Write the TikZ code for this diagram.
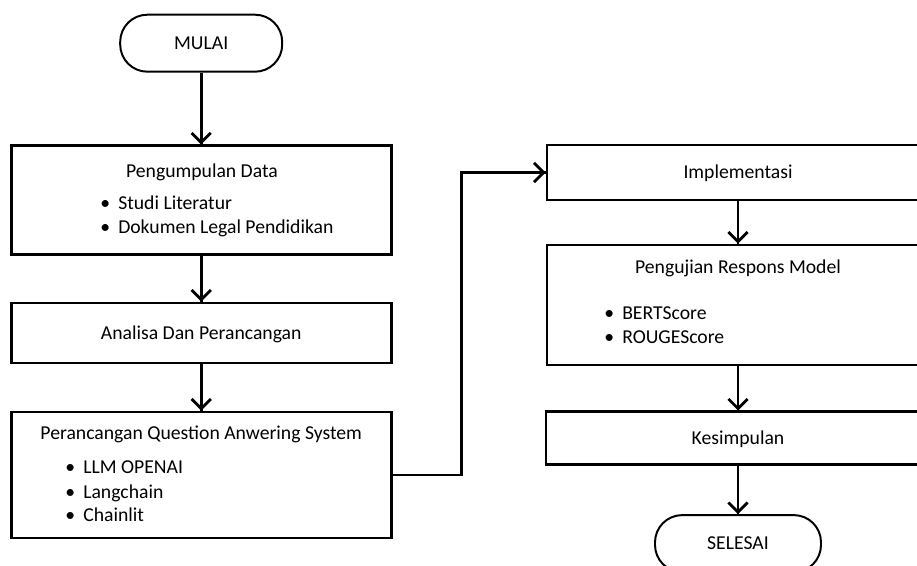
\documentclass[tikz,border=0pt]{standalone}
\usepackage{fontspec}
\setmainfont{Carlito}
\usetikzlibrary{arrows.meta}
\usetikzlibrary{decorations.markings}
\usetikzlibrary{positioning}
\tikzset{alur/.style = {line width=2pt,
                        decoration={markings,
                                    mark=at position 1 with {\arrow{Straight Barb[length=2.4mm, width=4.8mm]}}},
                        postaction={decorate}}}
\tikzset{kotak/.style = {draw, line width=2pt, minimum width=9.5cm, inner sep=0pt}}
\tikzset{ujung/.style = {draw, line width=1.4pt, rounded corners=0.68cm,
                         minimum width=4.05cm, minimum height=1.425cm, inner sep=0pt}}
\tikzset{every node/.style = {font=\fontsize{14}{17}\selectfont, text height=9pt, text depth=0pt}}
\newcommand{\butir}[1]{\makebox[0.45cm][l]{\textbullet}#1}

\begin{document}
\begin{tikzpicture}
    \clip (0, 0) rectangle (22.925, -14.15);

    % kolom kiri
    \node [ujung] (mulai) at (5.03, -1.08) {MULAI};

    \node [kotak, minimum height=2.725cm] (data) at (5.03, -5.01) {};
    \node at (5.05, -4.29) {Pengumpulan Data};
    \node [anchor=west, inner sep=0pt] at (2.5, -5.08) {\butir{Studi Literatur}};
    \node [anchor=west, inner sep=0pt] at (2.5, -5.68) {\butir{Dokumen Legal Pendidikan}};

    \node [kotak, minimum height=1.5cm] (analisa) at (5.03, -8.325) {Analisa Dan Perancangan};

    \node [kotak, minimum height=3.15cm] (qas) at (5.03, -11.875) {};
    \node at (5.03, -10.83) {Perancangan Question Anwering System};
    \node [anchor=west, inner sep=0pt] at (1.625, -11.68) {\butir{LLM OPENAI}};
    \node [anchor=west, inner sep=0pt] at (1.625, -12.3) {\butir{Langchain}};
    \node [anchor=west, inner sep=0pt] at (1.625, -12.88) {\butir{Chainlit}};

    % kolom kanan
    \node [kotak, minimum width=9.55cm, minimum height=1.375cm] (impl) at (18.45, -4.3125) {Implementasi};

    \node [kotak, minimum width=9.55cm, minimum height=3cm] (uji) at (18.45, -7.625) {};
    \node at (18.45, -6.68) {Pengujian Respons Model};
    \node [anchor=west, inner sep=0pt] at (15.1, -7.83) {\butir{BERTScore}};
    \node [anchor=west, inner sep=0pt] at (15.1, -8.43) {\butir{ROUGEScore}};

    \node [kotak, minimum width=9.6cm, minimum height=1.325cm] (simpul) at (18.45, -10.96) {Kesimpulan};

    \node [ujung, minimum width=4.15cm] (selesai) at (18.45, -13.59) {SELESAI};

    % panah
    \draw [alur] (mulai) -- (data);
    \draw [alur] (data) -- (analisa);
    \draw [alur] (analisa) -- (qas);
    \draw [alur] (qas.east) -| ([xshift=-2.1cm]impl.west) -- (impl.west);
    \draw [alur] (impl) -- (uji);
    \draw [alur] (uji) -- (simpul);
    \draw [alur] (simpul) -- (selesai);
\end{tikzpicture}
\end{document}
